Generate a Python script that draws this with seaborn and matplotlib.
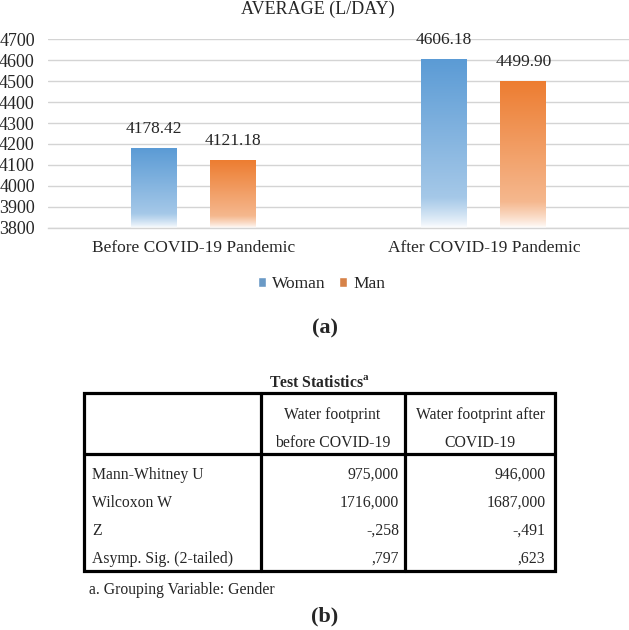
import numpy as np
import pandas as pd
import matplotlib
matplotlib.use("Agg")
import matplotlib.pyplot as plt
import seaborn as sns
from matplotlib.colors import to_rgb
from matplotlib.patches import Rectangle

# chart (a) data
periods = ["Before COVID-19 Pandemic", "After COVID-19 Pandemic"]
genders = ["Woman", "Man"]
woman_avg = [4178.42, 4606.18]
man_avg = [4121.18, 4499.90]
colors = ["#5B9BD5", "#ED7D31"]
y_ticks = list(range(3800, 4701, 100))

# table (b) data
table_title = "Test Statistics"
col_headers = [["Water footprint", "before COVID-19"], ["Water footprint after", "COVID-19"]]
row_labels = ["Mann-Whitney U", "Wilcoxon W", "Z", "Asymp. Sig. (2-tailed)"]
before_vals = ["975,000", "1716,000", "-,258", ",797"]
after_vals = ["946,000", "1687,000", "-,491", ",623"]
footnote = "a. Grouping Variable: Gender"

sns.set_style("white")
plt.rcParams["font.family"] = ["Liberation Serif", "DejaVu Serif"]
plt.rcParams["mathtext.fontset"] = "custom"
plt.rcParams["mathtext.rm"] = "Liberation Serif"
plt.rcParams["mathtext.bf"] = "Liberation Serif:bold"

df = pd.DataFrame({
    "period": periods * 2,
    "gender": [genders[0]] * 2 + [genders[1]] * 2,
    "value": woman_avg + man_avg,
})

fig = plt.figure(figsize=(6.29, 6.30), dpi=100)
W, H = 629, 630
ax = fig.add_axes([48 / W, 1 - 227.7 / H, 581 / W, (227.7 - 39.3) / H])

sns.barplot(data=df, x="period", y="value", hue="gender", palette=colors,
            width=0.544, gap=0.42, errorbar=None, ax=ax)
ax.set_ylim(3800, 4700)
ax.set_yticks(y_ticks)
ax.set_xlabel("")
ax.set_ylabel("")
ax.tick_params(axis="y", length=0, pad=9.5, labelsize=13)
ax.tick_params(axis="x", length=0, pad=9, labelsize=12.5)
ax.yaxis.grid(True, color="#D4D4D4", lw=1)
ax.set_axisbelow(True)
for s in ["left", "right", "top"]:
    ax.spines[s].set_visible(False)
ax.spines["bottom"].set_color("#D4D4D4")
ax.spines["bottom"].set_linewidth(1)

sns.move_legend(ax, "center", bbox_to_anchor=(321.5 / W, 1 - 284 / H),
                bbox_transform=fig.transFigure, ncol=2, frameon=False, title=None,
                fontsize=12.5, handlelength=0.46, handleheight=0.46,
                handletextpad=0.35, columnspacing=0.8)

# gradient fill: solid at top, fading to white at the bottom
t = np.linspace(0, 1, 256)
strength = np.where(t < 0.18, 0.55 * (t / 0.18) ** 0.8, 0.55 + 0.45 * (t - 0.18) / 0.82)
ybot = ax.get_ylim()[0]
for container, col in zip(ax.containers, colors):
    rgb = np.array(to_rgb(col))
    grad = (1 - strength[:, None]) * np.ones(3) + strength[:, None] * rgb
    img = grad[:, None, :]
    for bar in container:
        x0 = bar.get_x()
        x1 = x0 + bar.get_width()
        top = bar.get_height()
        bar.set_facecolor("none")
        bar.set_edgecolor("none")
        im = ax.imshow(img, extent=[x0, x1, ybot, top], origin="lower",
                       aspect="auto", zorder=2, interpolation="bilinear")
        im.set_clip_path(bar)
    ax.bar_label(container, fmt="{:.2f}", padding=8, fontsize=12.5)
ax.set_xlim(-0.5, 1.5)
ax.set_ylim(3800, 4700)

# overlay axes in pixel coordinates for titles and the table
ov = fig.add_axes([0, 0, 1, 1])
ov.set_xlim(0, W)
ov.set_ylim(H, 0)
ov.axis("off")

ov.text(318, 9, "AVERAGE (L/DAY)", ha="center", va="center", fontsize=13)
ov.text(325, 328, "(a)", ha="center", va="center", fontsize=16, fontweight="bold")

ov.text(319, 383, table_title + r"$^{\mathbf{a}}$", ha="center", va="center",
        fontsize=11.3, fontweight="bold")
lw = 2.3
ov.add_patch(Rectangle((83.5, 393), 555 - 83.5, 571 - 393, fill=False, lw=lw, color="black"))
for xc in [260.5, 404.5]:
    ov.plot([xc, xc], [393, 571], color="black", lw=lw)
ov.plot([83.5, 555], [454, 454], color="black", lw=lw)

col_centers = [332.5, 480]
for xc, lines in zip(col_centers, col_headers):
    ov.text(xc, 415, lines[0], ha="center", va="center", fontsize=11.3)
    ov.text(xc, 443, lines[1], ha="center", va="center", fontsize=11.3)

row_y = [475, 503, 531, 559]
for y, lab, b, a in zip(row_y, row_labels, before_vals, after_vals):
    ov.text(92, y, lab, ha="left", va="center", fontsize=11.3)
    ov.text(399, y, b, ha="right", va="center", fontsize=11.3)
    ov.text(545.5, y, a, ha="right", va="center", fontsize=11.3)

ov.text(89, 590, footnote, ha="left", va="center", fontsize=11.3)
ov.text(325, 616, "(b)", ha="center", va="center", fontsize=16, fontweight="bold")

fig.savefig("out.png", dpi=100)
